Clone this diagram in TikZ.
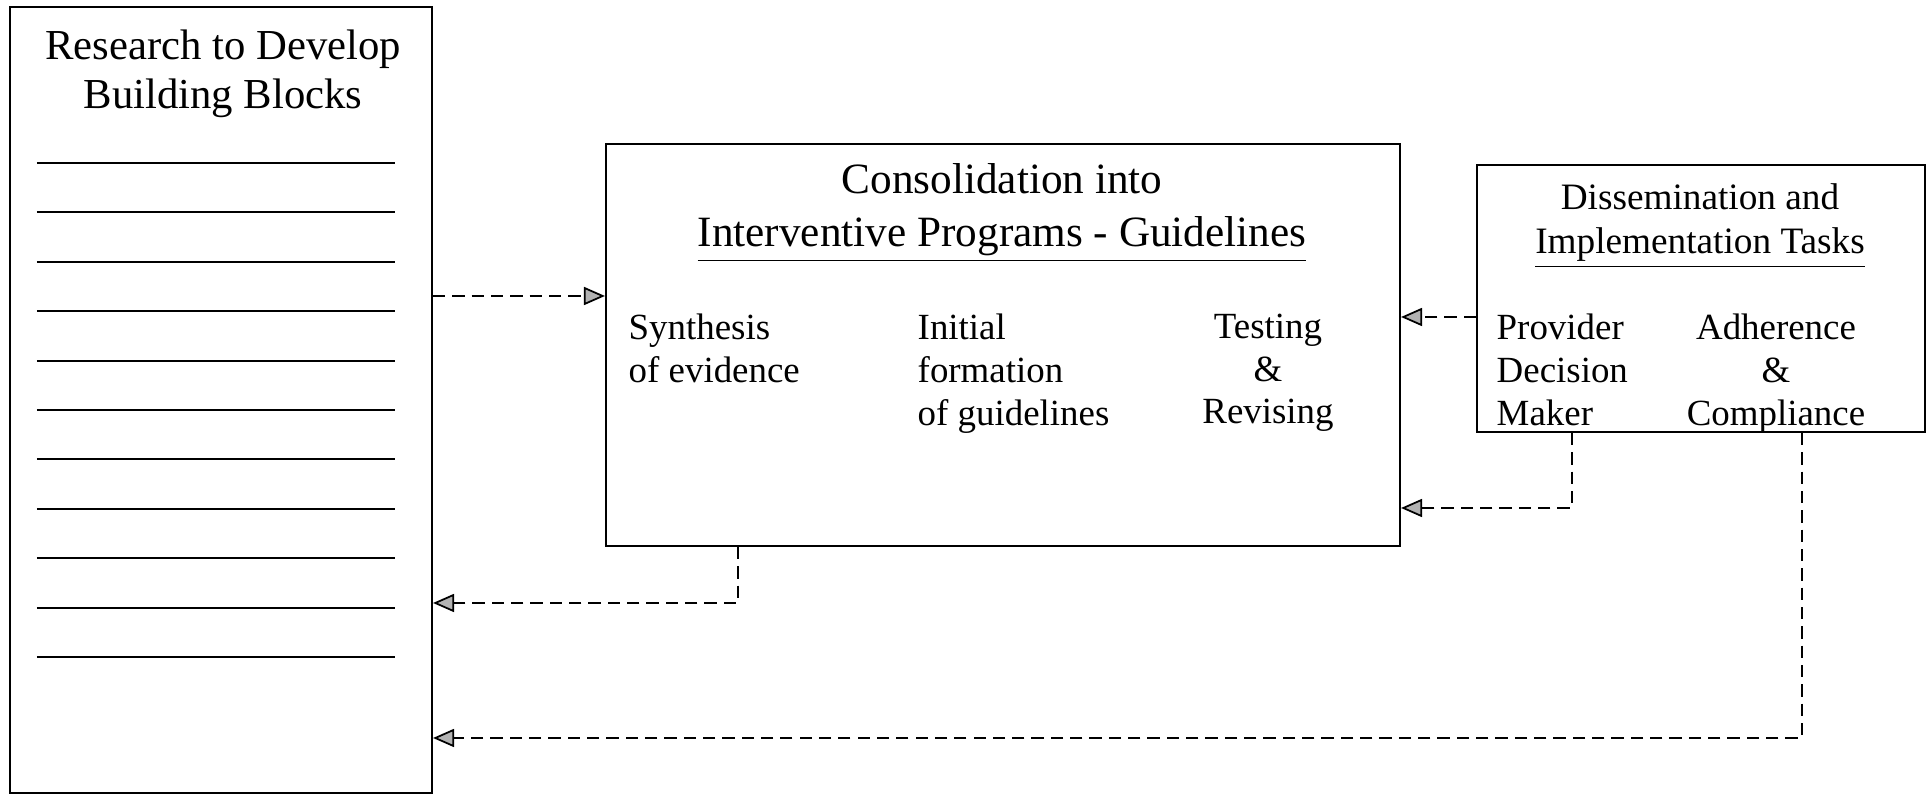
\documentclass[tikz,border=0pt]{standalone}
\usepackage{fontspec}
\setmainfont{Liberation Serif}
\usetikzlibrary{arrows.meta, positioning}

\begin{document}
\begin{tikzpicture}[
    block/.style={rectangle, draw=black, line width=0.6pt, inner sep=0pt},
    title/.style={align=center, inner sep=0pt, anchor=north, font=\fontsize{12.15}{14}\selectfont},
    sub/.style={align=left, inner sep=0pt, anchor=north west, font=\fontsize{10.5}{12.2}\selectfont},
    rule/.style={line width=0.6pt},
    link/.style={line width=0.5pt, dash pattern=on 3.5pt off 2pt, -{Triangle[length=0.21cm, width=0.18cm, fill=gray!60]}}
]
\useasboundingbox (0,0) rectangle (19.28,7.97);

% boxes
\node (research) [block, minimum width=4.22cm, minimum height=7.86cm] at (2.21,3.97) {};
\node (consol) [block, minimum width=7.94cm, minimum height=4.02cm] at (10.03,4.52) {};
\node (dissem) [block, minimum width=4.48cm, minimum height=2.67cm] at (17.01,4.985) {};

% blank lines in the research box
\foreach \i in {0,...,10}
    \draw [rule] (0.37,{6.34-0.494*\i}) -- (3.95,{6.34-0.494*\i});

% texts
\node (rtitle) [title] at (2.23,7.68) {Research to Develop\\Building Blocks};
\node (ctitle) [title, font=\fontsize{12.3}{14.9}\selectfont] at (10.02,6.34) {Consolidation into\\\underline{Interventive Programs - Guidelines}};
\node (synth) [sub] at (6.28,4.84) {Synthesis\\of evidence};
\node (init) [sub] at (9.17,4.84) {Initial\\formation\\of guidelines};
\node (test) [sub, align=center, anchor=north] at (12.68,4.84) {Testing\\\&\\Revising};
\node (dtitle) [title, font=\fontsize{10.6}{12.6}\selectfont] at (17.00,6.14) {Dissemination and\\\underline{Implementation Tasks}};
\node (prov) [sub] at (14.96,4.84) {Provider\\Decision\\Maker};
\node (adh) [sub, align=center, anchor=north] at (17.76,4.84) {Adherence\\\&\\Compliance};

% connectors
\coordinate (p1) at (0,5.01);
\coordinate (p2) at (0,4.80);
\coordinate (p3) at (15.72,2.89);
\coordinate (p4) at (7.38,1.94);
\coordinate (p5) at (18.02,0.59);
\draw [link] (research.east |- p1) -- (consol.west |- p1);
\draw [link] (dissem.west |- p2) -- (consol.east |- p2);
\draw [link] (dissem.south -| p3) |- (consol.east |- p3);
\draw [link] (consol.south -| p4) |- (research.east |- p4);
\draw [link] (dissem.south -| p5) |- (research.east |- p5);
\end{tikzpicture}
\end{document}
